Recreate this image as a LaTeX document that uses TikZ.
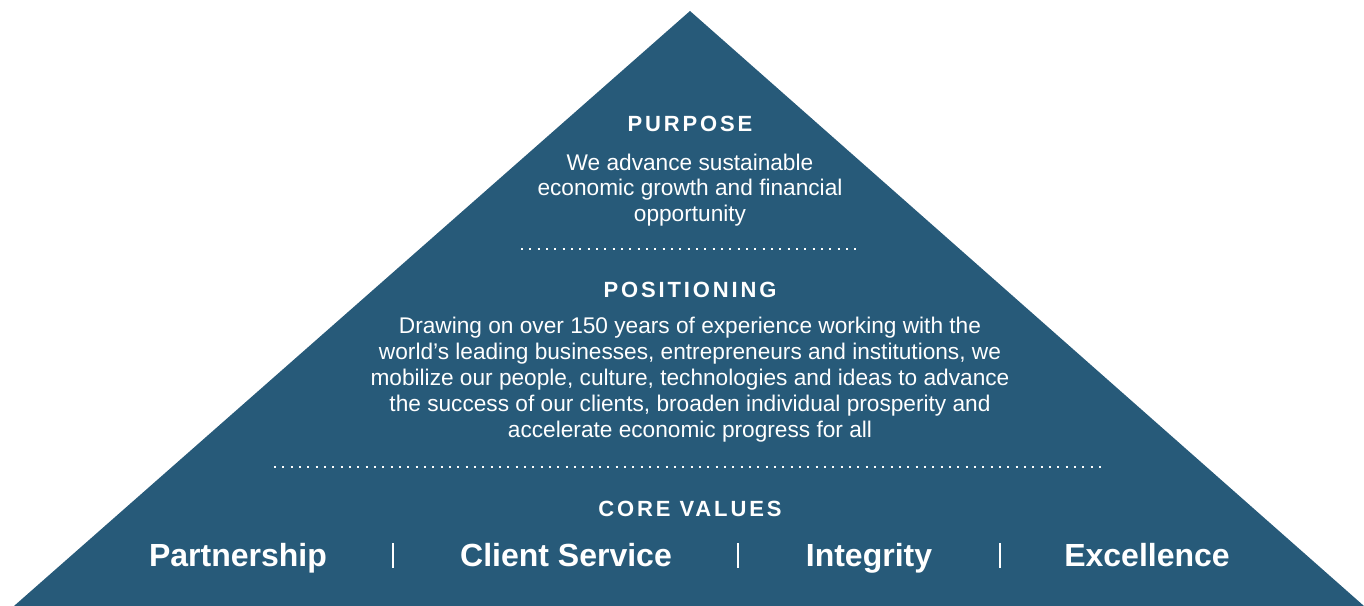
\documentclass[tikz,border=0pt]{standalone}
\usepackage{fontspec}
\setmainfont{Liberation Sans}
\newfontfamily\spacedfont[LetterSpace=13]{Liberation Sans}
\definecolor{pyramidblue}{RGB}{39,90,121}

\begin{document}
\begin{tikzpicture}[
    x=0.75pt, y=-0.75pt,
    every node/.style={text=white, inner sep=0pt},
    heading/.style={anchor=base, font=\spacedfont\bfseries\fontsize{16.5}{20}\selectfont},
    bodytext/.style={anchor=base, align=center, font=\fontsize{17}{19.5}\selectfont},
    value/.style={anchor=base, font=\bfseries\fontsize{24}{28}\selectfont},
    dotline/.style={white, line width=1.6pt, dash pattern=on 1.6pt off 4.65pt},
    ]

    \useasboundingbox (0,0) rectangle (1364,606);

    \fill[pyramidblue] (14,606) -- (690,11) -- (1364,606) -- cycle;

    % purpose
    \node[heading] (purposehead) at (690,132) {PURPOSE};
    \node[bodytext] (purposetext) at (690,222)
        {We advance sustainable\\economic growth and financial\\opportunity};

    \draw[dotline] (521,249) -- (860,249);

    % positioning
    \node[heading] (positionhead) at (690,297) {POSITIONING};
    \node[bodytext] (positiontext) at (690,437)
        {Drawing on over 150 years of experience working with the\\
         world’s leading businesses, entrepreneurs and institutions, we\\
         mobilize our people, culture, technologies and ideas to advance\\
         the success of our clients, broaden individual prosperity and\\
         accelerate economic progress for all};

    \draw[dotline] (274,467) -- (1107,467);

    % core values
    \node[heading] (valueshead) at (690,516) {CORE VALUES};

    \foreach \x/\name/\lbl in {238/partner/Partnership, 566/client/Client Service,
                               869/integrity/Integrity, 1147/excel/Excellence}{
    \node[value] (\name) at (\x,566) {\lbl};
    }

    \foreach \x in {393,738,1000}{
    \draw[white, line width=0.9pt] (\x,543) -- (\x,568);
    }

\end{tikzpicture}
\end{document}
